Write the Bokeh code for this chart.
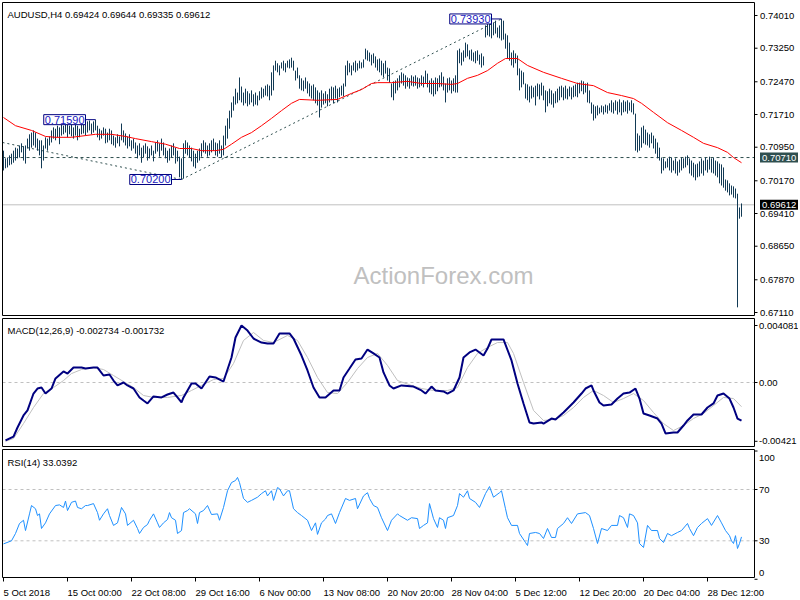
from bokeh.plotting import figure
from bokeh.models import Range1d, Label, ColumnDataSource
from bokeh.core.properties import value
from bokeh.embed import file_html
from bokeh.resources import INLINE

# ---------------- data ----------------
bar_high = [
    .7087, .7069, .7071, .7076, .7080, .7087, .7094, .7092, .7099, .7104,
    .7097, .7099, .7115, .7125, .7129, .7134, .7129, .7115, .7111, .7111,
    .7099, .7118, .7115, .7120, .7134, .7141, .7138, .7145, .7141, .7150,
    .7145, .7152, .7150, .7145, .7150, .7141, .7150, .7145, .7138, .7152,
    .7157, .7150, .7155, .7157, .7150, .7155, .7159, .7145, .7138, .7134,
    .7141, .7138, .7129, .7138, .7134, .7122, .7118, .7125, .7120, .7150,
    .7134, .7127, .7120, .7125, .7111, .7115, .7106, .7099, .7104, .7094,
    .7099, .7104, .7097, .7092, .7099, .7087, .7106, .7111, .7104, .7115,
    .7106, .7094, .7087, .7092, .7099, .7104, .7094, .7087, .7073, .7069,
    .7104, .7111, .7106, .7099, .7094, .7087, .7080, .7087, .7092, .7104,
    .7111, .7106, .7099, .7104, .7111, .7115, .7106, .7104, .7111, .7099,
    .7122, .7145, .7162, .7180, .7199, .7213, .7231, .7222, .7257, .7236,
    .7222, .7231, .7225, .7220, .7227, .7218, .7222, .7215, .7225, .7234,
    .7231, .7238, .7241, .7238, .7269, .7285, .7296, .7290, .7285, .7292,
    .7296, .7290, .7296, .7299, .7303, .7296, .7273, .7280, .7262, .7255,
    .7250, .7257, .7248, .7243, .7238, .7241, .7234, .7227, .7222, .7227,
    .7220, .7225, .7218, .7231, .7236, .7234, .7238, .7231, .7234, .7238,
    .7243, .7285, .7296, .7290, .7285, .7292, .7296, .7290, .7296, .7292,
    .7299, .7324, .7320, .7315, .7310, .7313, .7306, .7299, .7301, .7296,
    .7290, .7296, .7280, .7278, .7243, .7248, .7250, .7255, .7262, .7269,
    .7266, .7262, .7257, .7255, .7262, .7259, .7262, .7257, .7255, .7262,
    .7259, .7273, .7266, .7250, .7255, .7250, .7257, .7255, .7262, .7269,
    .7259, .7243, .7255, .7257, .7250, .7255, .7262, .7320, .7324, .7315,
    .7320, .7338, .7334, .7320, .7322, .7315, .7318, .7320, .7310, .7313,
    .7306, .7378, .7382, .7385, .7389, .7385, .7389, .7373, .7378, .7393,
    .7389, .7359, .7355, .7338, .7315, .7320, .7313, .7308, .7278, .7273,
    .7269, .7243, .7241, .7236, .7238, .7234, .7238, .7243, .7241, .7245,
    .7238, .7227, .7225, .7231, .7227, .7220, .7225, .7231, .7236, .7238,
    .7234, .7238, .7231, .7236, .7234, .7238, .7241, .7245, .7245, .7250,
    .7248, .7243, .7245, .7227, .7199, .7194, .7190, .7192, .7187, .7192,
    .7190, .7194, .7192, .7197, .7204, .7199, .7204, .7201, .7206, .7199,
    .7204, .7201, .7204, .7199, .7204, .7197, .7173, .7127, .7122, .7141,
    .7145, .7136, .7129, .7125, .7129, .7122, .7115, .7106, .7094, .7071,
    .7069, .7062, .7069, .7073, .7071, .7064, .7069, .7062, .7066, .7071,
    .7069, .7073, .7076, .7069, .7064, .7059, .7055, .7057, .7062, .7069,
    .7064, .7071, .7066, .7073, .7069, .7071, .7064, .7062, .7057, .7055,
    .7048, .7020, .7018, .7011, .7006, .7004, .6999, .6987, .6955, .69644,
]
bar_low = [
    .7041, .7046, .7048, .7053, .7055, .7059, .7064, .7069, .7071, .7083,
    .7064, .7057, .7092, .7087, .7094, .7099, .7094, .7087, .7076, .7046,
    .7064, .7092, .7087, .7099, .7106, .7115, .7111, .7118, .7102, .7122,
    .7125, .7129, .7118, .7125, .7120, .7115, .7122, .7111, .7118, .7125,
    .7127, .7122, .7129, .7134, .7125, .7129, .7134, .7118, .7111, .7115,
    .7122, .7104, .7106, .7111, .7102, .7099, .7094, .7104, .7097, .7111,
    .7106, .7099, .7092, .7097, .7087, .7092, .7080, .7069, .7076, .7059,
    .7071, .7080, .7064, .7069, .7076, .7062, .7080, .7085, .7073, .7087,
    .7076, .7069, .7059, .7064, .7071, .7076, .7057, .7062, .7025, .7020,
    .7022, .7080, .7076, .7071, .7062, .7050, .7046, .7059, .7064, .7073,
    .7083, .7080, .7073, .7076, .7083, .7087, .7076, .7073, .7080, .7071,
    .7076, .7099, .7115, .7138, .7164, .7180, .7194, .7197, .7204, .7199,
    .7192, .7197, .7190, .7194, .7199, .7190, .7194, .7192, .7204, .7208,
    .7211, .7215, .7213, .7204, .7215, .7227, .7273, .7269, .7262, .7278,
    .7273, .7269, .7280, .7278, .7280, .7273, .7250, .7255, .7231, .7227,
    .7225, .7231, .7220, .7213, .7208, .7204, .7197, .7192, .7164, .7187,
    .7194, .7197, .7190, .7199, .7204, .7197, .7208, .7199, .7211, .7215,
    .7213, .7236, .7262, .7269, .7262, .7273, .7269, .7273, .7278, .7278,
    .7280, .7299, .7296, .7294, .7285, .7290, .7280, .7273, .7269, .7262,
    .7257, .7266, .7250, .7245, .7211, .7204, .7220, .7227, .7234, .7243,
    .7238, .7231, .7236, .7231, .7238, .7236, .7238, .7231, .7234, .7238,
    .7234, .7243, .7234, .7222, .7218, .7213, .7218, .7225, .7234, .7236,
    .7227, .7199, .7222, .7227, .7220, .7225, .7222, .7222, .7290, .7285,
    .7294, .7303, .7306, .7299, .7296, .7294, .7290, .7296, .7287, .7280,
    .7285, .7350, .7355, .7352, .7348, .7355, .7359, .7350, .7348, .7343,
    .7345, .7324, .7301, .7296, .7285, .7280, .7290, .7262, .7227, .7234,
    .7241, .7208, .7204, .7199, .7208, .7211, .7192, .7213, .7206, .7215,
    .7204, .7176, .7190, .7197, .7194, .7187, .7197, .7199, .7204, .7211,
    .7204, .7208, .7206, .7213, .7206, .7211, .7213, .7211, .7220, .7225,
    .7218, .7222, .7199, .7197, .7173, .7157, .7162, .7169, .7173, .7176,
    .7171, .7176, .7173, .7180, .7176, .7173, .7180, .7171, .7176, .7169,
    .7176, .7178, .7173, .7180, .7176, .7171, .7087, .7083, .7087, .7094,
    .7104, .7101, .7099, .7094, .7104, .7092, .7080, .7069, .7064, .7034,
    .7041, .7046, .7048, .7041, .7036, .7041, .7034, .7029, .7036, .7041,
    .7046, .7048, .7053, .7034, .7029, .7025, .7018, .7025, .7027, .7034,
    .7029, .7041, .7036, .7043, .7036, .7034, .7029, .7025, .7011, .7006,
    .7001, .6994, .6990, .6983, .6985, .6978, .6976, .6723, .6929, .69335,
]
bar_idx = list(range(len(bar_high)))

ma_i = [0, 6, 14, 21, 26, 34, 41, 46, 54, 61, 66, 74, 81, 88, 94, 99, 106, 110, 114, 119,
        124, 129, 134, 139, 144, 148, 157, 167, 174, 179, 184, 187, 194, 202, 209, 217, 224, 227, 232, 237,
        242, 247, 251, 257, 262, 270, 279, 287, 295, 302, 309, 315, 319, 325, 332, 339, 345, 350, 357, 362,
        365, 369]
ma_v = [.7164, .7145, .7134, .7120, .7118, .7118, .7122, .7125, .7125, .7120,
        .7115, .7108, .7102, .7092, .7092, .7087, .7087, .7090, .7102, .7118,
        .7129, .7145, .7162, .7180, .7197, .7206, .7204, .7206, .7220, .7229,
        .7243, .7245, .7245, .7248, .7243, .7243, .7241, .7243, .7255, .7262,
        .7273, .7290, .7301, .7301, .7285, .7269, .7255, .7243, .7238, .7222,
        .7215, .7208, .7197, .7176, .7152, .7134, .7118, .7104, .7094, .7083,
        .7071, .7059]

macd_i = [1, 5, 7, 10, 12, 15, 17, 19, 21, 24, 26, 30, 32, 35, 39, 41, 45, 47, 50, 53,
          55, 57, 60, 62, 65, 68, 70, 72, 75, 79, 82, 85, 87, 89, 90, 94, 96, 99, 103, 106,
          110, 111, 114, 116, 119, 122, 125, 129, 132, 135, 138, 143, 145, 149, 152, 155, 158, 161, 165, 168,
          170, 173, 176, 179, 182, 185, 188, 190, 193, 195, 199, 205, 209, 211, 214, 216, 220, 222, 225, 228,
          230, 233, 236, 240, 242, 244, 247, 250, 254, 257, 260, 263, 265, 269, 270, 274, 276, 280, 282, 285,
          289, 291, 294, 295, 298, 300, 304, 307, 310, 313, 316, 318, 320, 323, 327, 329, 331, 335, 337, 340,
          342, 345, 349, 352, 355, 357, 360, 363, 365, 367, 369]
macd_v = [-0.00415, -0.00387, -0.00322, -0.00236, -0.00200, -0.00079, -0.00043, -0.00036, -0.00079, -0.00043,
          0.00029, 0.00079, 0.00064, 0.00107, 0.00107, 0.00100, 0.00107, 0.00107, 0.00050, 0.00057,
          0.00014, -0.00021, 0.0, -0.00021, -0.00043, -0.00107, -0.00129, -0.00150, -0.00100, -0.00107,
          -0.00086, -0.00072, -0.00107, -0.00143, -0.00107, -0.00007, -0.00007, -0.00043, 0.00043, 0.00036,
          0.00007, 0.00050, 0.00179, 0.00322, 0.004081, 0.00372, 0.00315, 0.00286, 0.00279, 0.00279,
          0.00351, 0.00351, 0.00315, 0.00193, 0.00086, -0.00036, -0.00107, -0.00107, -0.00057, -0.00057,
          0.00036, 0.00100, 0.00165, 0.00172, 0.00236, 0.00208, 0.00179, 0.00072, -0.00021, -0.00043,
          -0.00021, -0.00029, -0.00057, -0.00079, -0.00029, -0.00057, -0.00064, -0.00079, -0.00057, 0.00036,
          0.00179, 0.00215, 0.00236, 0.00193, 0.00243, 0.00308, 0.00308, 0.00308, 0.00158, -0.00007,
          -0.00150, -0.00286, -0.00294, -0.00286, -0.00294, -0.00258, -0.00265, -0.00215, -0.00186, -0.00143,
          -0.00079, -0.00043, -0.00021, -0.00057, -0.00143, -0.00165, -0.00158, -0.00115, -0.00079, -0.00072,
          -0.00043, -0.00115, -0.00222, -0.00236, -0.00258, -0.00294, -0.00365, -0.00358, -0.00358, -0.00308,
          -0.00272, -0.00229, -0.00229, -0.00179, -0.00150, -0.00093, -0.00079, -0.00115, -0.00179, -0.00258,
          -0.002734]

sig_i = [1, 5, 10, 15, 20, 25, 30, 34, 39, 45, 50, 55, 60, 65, 70, 75, 82, 89, 94, 99,
         105, 110, 115, 120, 125, 130, 135, 142, 147, 152, 157, 162, 167, 172, 177, 182, 187, 192, 197, 204,
         209, 215, 222, 227, 232, 237, 242, 247, 252, 255, 260, 265, 270, 275, 280, 285, 290, 295, 300, 305,
         310, 315, 320, 325, 330, 335, 340, 345, 350, 355, 360, 365, 369]
sig_v = [-0.00421, -0.00401, -0.00294, -0.00179, -0.00079, -0.00036, 0.00014, 0.00064, 0.00093, 0.00107,
         0.00093, 0.00050, 0.00007, -0.00036, -0.00093, -0.00107, -0.00107, -0.00093, -0.00057, -0.00021,
         0.00021, 0.00029, 0.00136, 0.00301, 0.00358, 0.00301, 0.00286, 0.00337, 0.00301, 0.00179,
         0.00036, -0.00072, -0.00079, 0.0, 0.00100, 0.00179, 0.00208, 0.00122, 0.00014, -0.00021,
         -0.00043, -0.00057, -0.00057, -0.00036, 0.00107, 0.00208, 0.00251, 0.00286, 0.00286, 0.00208,
         0.0, -0.00200, -0.00272, -0.00265, -0.00236, -0.00179, -0.00107, -0.00057, -0.00093, -0.00143,
         -0.00115, -0.00079, -0.00129, -0.00215, -0.00294, -0.00344, -0.00308, -0.00258, -0.00222, -0.00165,
         -0.00107, -0.00115, -0.001732]

rsi_pts = [
    (0, 27.6), (4, 30), (6, 35.7), (8, 43.5), (10, 46), (11, 38), (13, 51), (14, 57.5), (16, 55), (17, 49.7),
    (18, 51), (19, 39.6), (21, 44), (23, 51), (26, 57.5), (28, 58), (30, 56), (31, 61), (32, 53.6), (34, 60),
    (36, 61), (37, 56), (39, 55), (41, 57.5), (42, 57.5), (45, 59), (47, 52), (48, 46), (50, 51), (52, 55),
    (53, 49.7), (55, 42), (57, 44), (59, 56), (61, 51), (62, 42), (65, 46), (67, 39.6), (68, 35.7), (70, 40.4),
    (72, 42.7), (73, 46), (75, 51), (77, 44), (78, 40.4), (80, 44), (82, 46.6), (83, 52), (84, 48), (86, 46),
    (87, 35.7), (89, 38), (90, 52), (92, 53.6), (93, 55), (96, 51), (97, 43.5), (98, 52), (100, 53.6), (102, 57.5),
    (104, 50.5), (107, 51), (108, 46), (110, 56), (112, 69), (114, 75.4), (116, 77), (117, 79.4), (118, 75.4), (120, 63),
    (122, 60), (124, 61.5), (127, 64), (129, 66.8), (131, 69), (132, 65), (134, 69), (135, 61.5), (137, 71.5), (138, 70.6),
    (140, 65), (142, 69), (143, 69), (145, 55), (147, 52), (149, 49.7), (152, 46), (154, 38), (156, 44), (157, 35),
    (159, 44), (161, 47), (162, 49.7), (164, 51), (166, 43.5), (168, 52), (171, 63), (173, 61.5), (176, 63), (177, 55),
    (180, 65), (182, 67.5), (183, 63), (185, 57.5), (187, 56), (189, 48), (192, 38), (194, 46), (197, 51), (198, 49.7),
    (202, 46), (204, 48), (207, 47.3), (208, 39.6), (210, 42), (212, 44), (213, 59), (215, 47.3), (217, 40.4), (218, 48),
    (220, 46), (221, 39.6), (222, 48), (225, 49.7), (227, 57.5), (228, 66.8), (230, 64), (232, 69), (233, 63), (236, 60),
    (238, 56), (241, 66.8), (243, 72.3), (245, 64), (248, 67.5), (249, 69), (251, 55), (252, 48), (254, 42), (257, 42),
    (258, 35.7), (261, 28.7), (262, 26.3), (263, 35.7), (266, 36.5), (268, 35.7), (270, 31.8), (272, 39.6), (274, 32.6), (276, 32.6),
    (277, 39.6), (280, 43.5), (282, 48), (284, 43.5), (287, 51), (291, 52), (293, 49.7), (295, 39.6), (297, 27.9), (299, 39.6),
    (302, 38), (304, 42), (307, 42), (308, 49.7), (310, 48), (312, 40.4), (313, 51), (315, 49.7), (317, 44), (318, 27.9),
    (320, 24.8), (322, 42), (324, 38), (327, 38), (328, 31.8), (330, 28.7), (332, 35.7), (334, 34), (337, 36.5), (339, 38),
    (342, 43.5), (343, 39.6), (345, 34), (347, 40.4), (349, 43.5), (352, 47.3), (354, 42), (357, 49.7), (359, 44), (361, 38),
    (363, 34), (364, 30), (365, 27.9), (366, 34), (367, 24), (368, 27.9), (369, 33.0392),
]
rsi_i = [a for a, b in rsi_pts]
rsi_v = [b for a, b in rsi_pts]

# trend lines & marked levels
tl1_x, tl1_y = [-0.5, 89], [0.7106, 0.7020]
tl2_x, tl2_y = [89, 249], [0.7020, 0.7393]
marks = [(46, 0.7159, "0.71590"), (89, 0.7020, "0.70200"), (249, 0.7393, "0.73930")]
level_line = 0.70710
last_close = 0.69612

price_ticks = [0.74010, 0.73250, 0.72470, 0.71710, 0.70950, 0.70170, 0.69410, 0.68650, 0.67870, 0.67110]
macd_ticks = [0.004081, 0.0, -0.00421]
macd_tick_lbl = ["0.004081", "0.00", "-0.00421"]
rsi_ticks = [100, 70, 30, 0]
rsi_levels = [70, 30]
date_idx = [0, 32, 64, 96, 128, 160, 192, 224, 256, 288, 320, 352]
date_lbl = ["5 Oct 2018", "15 Oct 00:00", "22 Oct 08:00", "29 Oct 16:00", "6 Nov 00:00", "13 Nov 08:00",
            "20 Nov 20:00", "28 Nov 04:00", "5 Dec 12:00", "12 Dec 20:00", "20 Dec 04:00", "28 Dec 12:00"]

title_main = "AUDUSD,H4  0.69424 0.69644 0.69335 0.69612"
title_macd = "MACD(12,26,9) -0.002734 -0.001732"
title_rsi = "RSI(14) 33.0392"

# ---------------- layout (canvas pixels, y downward; Bokeh adds +0.5 itself) ----------------
W, H = 798, 598
FONT = "Liberation Sans"
FS = "9.5px"
BAR = "#123a55"
SLATE = "#2f4f4f"
LB, RB = 2, 754
P_TOP, P_BOT = 2, 315
M_TOP, M_BOT = 318, 446
R_TOP, R_BOT = 449, 577
LBL_X = 758.5
BAR_X0, BAR_DX = 3.0, 2.0      # pixel of the first bar, pixels per bar


def band(v1, c1, v2, c2):
    k = (c2 - c1) / (v2 - v1)
    return Range1d(start=v1 + (H - c1) / k, end=v1 + (0 - c1) / k)


p = figure(width=W, height=H, x_range=Range1d(0, W), y_range=Range1d(H, 0),
           min_border=0, x_axis_location=None, y_axis_location=None,
           toolbar_location=None, output_backend="svg")
p.outline_line_color = None
p.background_fill_color = "white"
p.border_fill_color = "white"
for r in list(p.center):
    r.visible = False

p.extra_x_ranges = {"bar": Range1d(-BAR_X0 / BAR_DX, (W - BAR_X0) / BAR_DX)}
p.extra_y_ranges = {
    "price": band(0.74010, 15.0, 0.67110, 312.0),
    "macd": band(0.004081, 325.0, 0.0, 382.0),
    "rsi": band(70, 489.0, 30, 540.3),
}

TXT = dict(text_font=value(FONT), text_color="black", text_align="left")

# ---- price panel ----
p.text(x=[220], y=[0.6797], text=["ActionForex.com"], x_range_name="bar", y_range_name="price",
       text_font=value(FONT), text_font_size=value("24px"), text_color="#c0c0c0",
       text_align="center", text_baseline="middle", level="underlay")
p.segment(x0=[LB], x1=[RB], y0=[level_line], y1=[level_line], y_range_name="price",
          line_color=SLATE, line_dash="3 3", line_width=1)
p.segment(x0=[LB], x1=[RB], y0=[last_close], y1=[last_close], y_range_name="price",
          line_color="#c0c0c0", line_width=1)
p.line(tl1_x, tl1_y, x_range_name="bar", y_range_name="price", line_color=SLATE, line_dash="2 3", line_width=1)
p.line(tl2_x, tl2_y, x_range_name="bar", y_range_name="price", line_color=SLATE, line_dash="2 3", line_width=1)
p.segment(x0=bar_idx, y0=bar_low, x1=bar_idx, y1=bar_high, x_range_name="bar", y_range_name="price",
          line_color=BAR, line_width=1)
p.line(ma_i, ma_v, x_range_name="bar", y_range_name="price", line_color="#ff0000", line_width=1)

for bi, pv, txt in marks:
    p.segment(x0=[bi - 5], x1=[bi], y0=[pv], y1=[pv], x_range_name="bar", y_range_name="price",
              line_color="#000080", line_width=1)
    p.add_layout(Label(x=bi - 5, y=pv, x_range_name="bar", y_range_name="price", text=txt,
                       text_font=FONT, text_font_size="11px", text_color="#2020c0",
                       text_align="right", text_baseline="middle",
                       background_fill_color="white", border_line_color="#000080", padding=1))

# price axis
p.segment(x0=[RB] * len(price_ticks), x1=[RB + 3] * len(price_ticks), y0=price_ticks, y1=price_ticks,
          y_range_name="price", line_color="black")
p.text(x=[LBL_X + 1] * len(price_ticks), y=price_ticks, text=["%.5f" % t for t in price_ticks],
       y_range_name="price", text_font_size=value(FS), text_baseline="middle", **TXT)
p.add_layout(Label(x=LBL_X + 1, y=level_line, y_range_name="price", text="%.5f" % level_line,
                   text_font=FONT, text_font_size=FS, text_color="white",
                   text_align="left", text_baseline="middle",
                   background_fill_color=SLATE, padding=2))
p.add_layout(Label(x=LBL_X + 1, y=last_close, y_range_name="price", text="%.5f" % last_close,
                   text_font=FONT, text_font_size=FS, text_color="white",
                   text_align="left", text_baseline="middle",
                   background_fill_color="black", padding=2))
p.add_layout(Label(x=7, y=14, text=title_main, text_font=FONT, text_font_size=FS,
                   text_color="black", text_align="left", text_baseline="alphabetic"))

# ---- MACD panel ----
p.segment(x0=[LB], x1=[RB], y0=[0], y1=[0], y_range_name="macd",
          line_color="#c0c0c0", line_dash="3 3", line_width=1)
p.line(sig_i, sig_v, x_range_name="bar", y_range_name="macd", line_color="#c0c0c0", line_width=1)
p.line(macd_i, macd_v, x_range_name="bar", y_range_name="macd", line_color="#000080", line_width=2)
p.segment(x0=[RB] * 3, x1=[RB + 3] * 3, y0=macd_ticks, y1=macd_ticks, y_range_name="macd", line_color="black")
p.text(x=[LBL_X] * 3, y=macd_ticks, text=macd_tick_lbl, y_range_name="macd",
       text_font_size=value(FS), text_baseline="middle", **TXT)
p.add_layout(Label(x=7, y=329.5, text=title_macd, text_font=FONT, text_font_size=FS,
                   text_color="black", text_align="left", text_baseline="alphabetic"))

# ---- RSI panel ----
p.segment(x0=[LB] * 2, x1=[RB] * 2, y0=rsi_levels, y1=rsi_levels, y_range_name="rsi",
          line_color="#c0c0c0", line_dash="3 3", line_width=1)
p.line(rsi_i, rsi_v, x_range_name="bar", y_range_name="rsi", line_color="#1e90ff", line_width=1)
p.segment(x0=[RB] * 4, x1=[RB + 3] * 4, y0=rsi_ticks, y1=rsi_ticks, y_range_name="rsi", line_color="black")
rsi_lbl_src = ColumnDataSource(dict(x=[LBL_X] * 4, y=rsi_ticks, t=[str(v) for v in rsi_ticks],
                                    dy=[6.5, 0, 0, -6]))
p.text(x="x", y="y", text="t", y_offset="dy", source=rsi_lbl_src, y_range_name="rsi",
       text_font_size=value(FS), text_baseline="middle", **TXT)
p.add_layout(Label(x=7, y=462, text=title_rsi, text_font=FONT, text_font_size=FS,
                   text_color="black", text_align="left", text_baseline="alphabetic"))

# date axis
n = len(date_idx)
p.segment(x0=date_idx, x1=date_idx, y0=[R_BOT] * n, y1=[R_BOT + 4] * n, x_range_name="bar", line_color="black")
p.text(x=date_idx, y=[592] * n, text=date_lbl, x_range_name="bar",
       text_font_size=value(FS), text_baseline="alphabetic", **TXT)

# panel frames
p.quad(left=[LB] * 3, right=[RB] * 3, top=[P_TOP, M_TOP, R_TOP], bottom=[P_BOT, M_BOT, R_BOT],
       fill_color=None, line_color="black", line_width=1)

open("out.html", "w").write(file_html(p, INLINE))
